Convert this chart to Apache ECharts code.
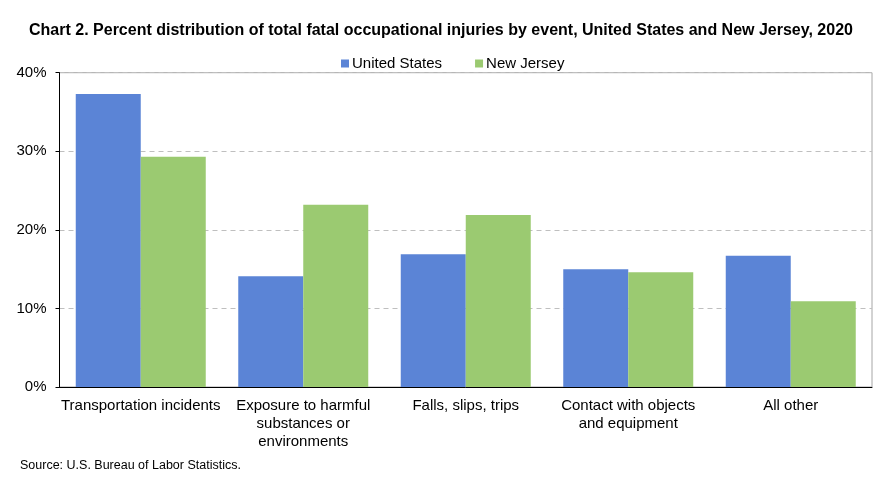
<!DOCTYPE html>
<html><head><meta charset="utf-8">
<script src="https://cdn.jsdelivr.net/npm/echarts@6/dist/echarts.min.js"></script>
<style>html,body{margin:0;padding:0;background:#fff}#c{width:882px;height:487px}</style>
</head><body><div id="c"></div>
<script>
var categories = ["Transportation incidents", "Exposure to harmful\nsubstances or\nenvironments", "Falls, slips, trips", "Contact with objects\nand equipment", "All other"];
var unitedStates = [37.3, 14.1, 16.9, 15.0, 16.7];
var newJersey = [29.3, 23.2, 21.9, 14.6, 10.9];
var yTicks = [0, 10, 20, 30, 40];

var chart = echarts.init(document.getElementById('c'));
var font = 'Liberation Sans, Arial, sans-serif';
chart.setOption({
  animation: false,
  textStyle: {fontFamily: font},
  title: {
    text: 'Chart 2. Percent distribution of total fatal occupational injuries by event, United States and New Jersey, 2020',
    left: 'center', top: 18,
    textStyle: {fontSize: 16, fontWeight: 'bold', color: '#000', fontFamily: font}
  },
  legend: {
    top: 51, left: 336, icon: 'rect', itemWidth: 8, itemHeight: 8, itemGap: 33,
    textStyle: {fontSize: 15, color: '#000', fontFamily: font, padding: [0,0,0,-2]},
    data: ['United States', 'New Jersey']
  },
  graphic: [{type: 'text', left: 20, top: 459, style: {text: 'Source: U.S. Bureau of Labor Statistics.', fontSize: 12.5, fill: '#000', fontFamily: font}}],
  grid: {left: 59.5, right: 10, top: 72.7, height: 314.3, show: true, borderColor: '#a6a6a6', borderWidth: 1},
  xAxis: {
    type: 'category', data: categories,
    axisLine: {lineStyle: {color: '#000'}},
    axisTick: {show: false},
    axisLabel: {fontSize: 15, color: '#000', lineHeight: 18, margin: 10, interval: 0, fontFamily: font}
  },
  yAxis: {
    type: 'value', min: yTicks[0], max: yTicks[yTicks.length-1], interval: 10,
    axisLine: {show: true, lineStyle: {color: '#000'}},
    axisTick: {show: true, length: 4, lineStyle: {color: '#000'}},
    axisLabel: {fontSize: 15, color: '#000', margin: 13, formatter: '{value}%', fontFamily: font},
    splitLine: {show: true, lineStyle: {color: '#bfbfbf', type: [5, 4]}}
  },
  series: [
    {name: 'United States', type: 'bar', data: unitedStates, barGap: '0%', barCategoryGap: '20%', itemStyle: {color: '#5B84D6'}},
    {name: 'New Jersey', type: 'bar', data: newJersey, barGap: '0%', barCategoryGap: '20%', itemStyle: {color: '#9BCA71'}}
  ]
});
</script></body></html>
